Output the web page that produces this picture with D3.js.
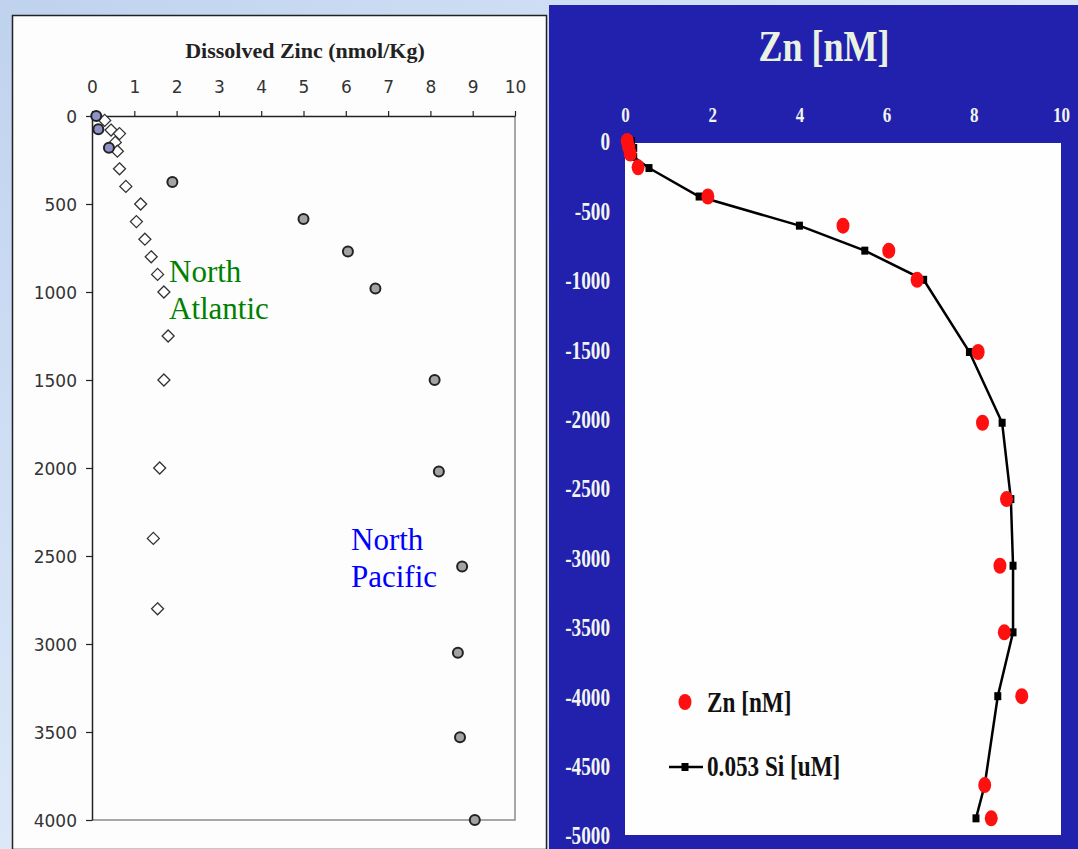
<!DOCTYPE html>
<html>
<head>
<meta charset="utf-8">
<script src="https://cdnjs.cloudflare.com/ajax/libs/d3/7.8.5/d3.min.js"></script>
<style>
  body { margin: 0; background: #d3e2f5; }
  svg { display: block; }
</style>
</head>
<body>
<script>
// ---- data ----
// left panel: North Atlantic (diamonds) and North Pacific (circles), depth in m
var atlanticZn    = [0.3, 0.45, 0.65, 0.55, 0.6, 0.65, 0.8, 1.15, 1.05, 1.25, 1.4, 1.55, 1.7, 1.8, 1.7, 1.6, 1.45, 1.55]
var atlanticDepth = [25, 80, 100, 150, 200, 300, 400, 500, 600, 700, 800, 900, 1000, 1250, 1500, 2000, 2400, 2800]

var pacificZn     = [0.1, 0.15, 0.4, 1.9, 5.0, 6.05, 6.7, 8.1, 8.2, 8.75, 8.65, 8.7, 9.05]
var pacificDepth  = [0, 75, 180, 375, 585, 770, 980, 1500, 2020, 2560, 3050, 3530, 4000]

var leftXTicks = [0, 1, 2, 3, 4, 5, 6, 7, 8, 9, 10]
var leftYTicks = [0, 500, 1000, 1500, 2000, 2500, 3000, 3500, 4000]

// right panel: Zn [nM] (red dots) and 0.053 Si [uM] (black line)
var znVal   = [0.05, 0.08, 0.12, 0.3, 1.9, 5.0, 6.05, 6.7, 8.1, 8.2, 8.75, 8.6, 8.7, 9.1, 8.25, 8.4]
var znDepth = [0, -40, -90, -190, -400, -610, -790, -1000, -1520, -2030, -2580, -3060, -3540, -4000, -4640, -4880]

var siVal   = [0.15, 0.2, 0.2, 0.55, 1.7, 4.0, 5.5, 6.85, 7.9, 8.65, 8.85, 8.9, 8.9, 8.55, 8.25, 8.05]
var siDepth = [0, -50, -115, -195, -400, -610, -790, -1000, -1520, -2030, -2580, -3060, -3540, -4000, -4640, -4880]

var rightXTicks = [0, 2, 4, 6, 8, 10]
var rightYTicks = [0, -500, -1000, -1500, -2000, -2500, -3000, -3500, -4000, -4500, -5000]

var width = 1078,
    height = 849

// plain labels: no thousands comma, ascii minus
var plain = function(d) { return String(d) }

var svg = d3.select("body")
  .append("svg")
  .attr("width", width)
  .attr("height", height)

// background
var defs = svg.append("defs")
var bg = defs.append("linearGradient")
  .attr("id", "sky")
  .attr("x1", 0).attr("y1", 0).attr("x2", 1).attr("y2", 1)
bg.append("stop").attr("offset", "0%").attr("stop-color", "#bfd2ee")
bg.append("stop").attr("offset", "50%").attr("stop-color", "#dce8f8")
bg.append("stop").attr("offset", "100%").attr("stop-color", "#c9daf2")

svg.append("rect")
  .attr("width", width)
  .attr("height", height)
  .attr("fill", "url(#sky)")

// ================= left panel =================
svg.append("rect")
  .attr("x", 12.5)
  .attr("y", 15.5)
  .attr("width", 534)
  .attr("height", 834)
  .attr("fill", "#fdfdfd")
  .attr("stroke", "#222")
  .attr("stroke-width", 1.5)

var xL = d3.scaleLinear().domain([0, 10]).range([92, 515])
var yL = d3.scaleLinear().domain([0, 4000]).range([116, 820])

// right and bottom plot borders (grey)
svg.append("path")
  .attr("d", "M" + xL(10) + "," + yL(0) + "V" + yL(4000) + "H" + xL(0))
  .attr("fill", "none")
  .attr("stroke", "#8a8a8a")
  .attr("stroke-width", 1.5)

var xAxisL = svg.append("g")
  .attr("transform", "translate(0," + yL(0) + ")")
  .call(d3.axisTop(xL).tickValues(leftXTicks).tickFormat(plain)
    .tickSize(5).tickPadding(18).tickSizeOuter(0))

var yAxisL = svg.append("g")
  .attr("transform", "translate(" + xL(0) + ",0)")
  .call(d3.axisLeft(yL).tickValues(leftYTicks).tickFormat(plain)
    .tickSize(6).tickPadding(9).tickSizeOuter(0))

;[xAxisL, yAxisL].forEach(function(a) {
  a.selectAll("path.domain").attr("stroke", "#222").attr("stroke-width", 1.5)
  a.selectAll(".tick line").attr("stroke", "#222").attr("stroke-width", 1.2)
  a.selectAll(".tick text")
    .attr("fill", "#333")
    .style("font-family", "'DejaVu Sans', sans-serif")
    .style("font-size", "17px")
})
yAxisL.selectAll(".tick text").attr("dy", "0.36em")

svg.append("text")
  .text("Dissolved Zinc (nmol/Kg)")
  .attr("x", 305)
  .attr("y", 58)
  .attr("text-anchor", "middle")
  .attr("fill", "#222")
  .style("font-family", "'Liberation Serif', 'Times New Roman', serif")
  .style("font-weight", "bold")
  .style("font-size", "22px")

// North Atlantic diamonds
var atlantic = atlanticZn.map(function(v, i) { return { x: v, d: atlanticDepth[i] } })
svg.selectAll(".diamond")
  .data(atlantic)
  .enter().append("path")
  .attr("class", "diamond")
  .attr("d", "M0,-6L6,0L0,6L-6,0Z")
  .attr("transform", function(d) { return "translate(" + xL(d.x) + "," + yL(d.d) + ")" })
  .attr("fill", "#fff")
  .attr("stroke", "#333")
  .attr("stroke-width", 1.3)

// North Pacific circles
var pacific = pacificZn.map(function(v, i) { return { x: v, d: pacificDepth[i] } })
svg.selectAll(".pac")
  .data(pacific)
  .enter().append("circle")
  .attr("class", "pac")
  .attr("cx", function(d) { return xL(d.x) })
  .attr("cy", function(d) { return yL(d.d) })
  .attr("r", 5)
  .attr("fill", function(d, i) { return i < 3 ? "#8e92c6" : "#a3a3a3" })
  .attr("stroke", "#222")
  .attr("stroke-width", 2)

function labelLines(lines, x, y, color) {
  var t = svg.append("text")
    .attr("x", x)
    .attr("y", y)
    .attr("fill", color)
    .style("font-family", "'Liberation Serif', 'Times New Roman', serif")
    .style("font-size", "31px")
  lines.forEach(function(s, i) {
    t.append("tspan").attr("x", x).attr("dy", i ? 37 : 0).text(s)
  })
}
labelLines(["North", "Atlantic"], 169, 282, "#008000")
labelLines(["North", "Pacific"], 351, 550, "#0000ff")

// ================= right panel =================
svg.append("rect")
  .attr("x", 549)
  .attr("y", 5)
  .attr("width", width - 549)
  .attr("height", height - 5)
  .attr("fill", "#2121ad")

var xR = d3.scaleLinear().domain([0, 10]).range([625, 1061])
var yR = d3.scaleLinear().domain([0, -5000]).range([141, 835])

svg.append("rect")
  .attr("x", xR(0))
  .attr("y", yR(0) + 2)
  .attr("width", xR(10) - xR(0))
  .attr("height", yR(-5000) - yR(0) - 2)
  .attr("fill", "#fefefe")

var serif = "'Liberation Serif', 'Times New Roman', serif"

var xAxisR = svg.append("g")
  .attr("transform", "translate(0," + yR(0) + ")")
  .call(d3.axisTop(xR).tickValues(rightXTicks).tickFormat(plain).tickSize(0).tickPadding(19))
var yAxisR = svg.append("g")
  .attr("transform", "translate(" + xR(0) + ",0)")
  .call(d3.axisLeft(yR).tickValues(rightYTicks).tickFormat(plain).tickSize(0).tickPadding(15))

;[xAxisR, yAxisR].forEach(function(a) {
  a.selectAll("path.domain").remove()
  a.selectAll(".tick text")
    .attr("fill", "#f2f4ee")
    .style("font-family", serif)
    .style("font-weight", "bold")
})
xAxisR.selectAll(".tick text")
  .style("font-size", "20px")
  .attr("transform", "scale(0.85,1)")
yAxisR.selectAll(".tick text")
  .style("font-size", "26px")
  .attr("dy", "0.34em")
  .attr("x", -15 / 0.74)
  .attr("transform", "scale(0.74,1)")

svg.append("text")
  .text("Zn [nM]")
  .attr("transform", "translate(824,61) scale(0.8,1)")
  .attr("text-anchor", "middle")
  .attr("fill", "#eaf3e2")
  .style("font-family", serif)
  .style("font-weight", "bold")
  .style("font-size", "45px")

// Si line
var si = siVal.map(function(v, i) { return { x: v, d: siDepth[i] } })
var line = d3.line()
  .x(function(d) { return xR(d.x) })
  .y(function(d) { return yR(d.d) })

svg.append("path")
  .datum(si)
  .attr("d", line)
  .attr("fill", "none")
  .attr("stroke", "#000")
  .attr("stroke-width", 2.5)

svg.selectAll(".sq")
  .data(si)
  .enter().append("rect")
  .attr("class", "sq")
  .attr("x", function(d) { return xR(d.x) - 3.5 })
  .attr("y", function(d) { return yR(d.d) - 4 })
  .attr("width", 7)
  .attr("height", 8)
  .attr("fill", "#000")

// Zn dots
var zn = znVal.map(function(v, i) { return { x: v, d: znDepth[i] } })
svg.selectAll(".zn")
  .data(zn)
  .enter().append("ellipse")
  .attr("class", "zn")
  .attr("cx", function(d) { return xR(d.x) })
  .attr("cy", function(d) { return yR(d.d) })
  .attr("rx", 6.5)
  .attr("ry", 8)
  .attr("fill", "#ff1010")

// legend
var legend = svg.append("g")
legend.append("ellipse")
  .attr("cx", 685).attr("cy", 702)
  .attr("rx", 6.5).attr("ry", 8)
  .attr("fill", "#ff1010")
legend.append("line")
  .attr("x1", 669).attr("x2", 703)
  .attr("y1", 767).attr("y2", 767)
  .attr("stroke", "#000").attr("stroke-width", 2.5)
legend.append("rect")
  .attr("x", 681.5).attr("y", 763)
  .attr("width", 7).attr("height", 8)
  .attr("fill", "#000")

var legendText = [["Zn [nM]", 712], ["0.053 Si [uM]", 776]]
legendText.forEach(function(t) {
  legend.append("text")
    .text(t[0])
    .attr("transform", "translate(707," + t[1] + ") scale(0.8,1)")
    .attr("fill", "#111")
    .style("font-family", serif)
    .style("font-weight", "bold")
    .style("font-size", "29px")
})
</script>
</body>
</html>
